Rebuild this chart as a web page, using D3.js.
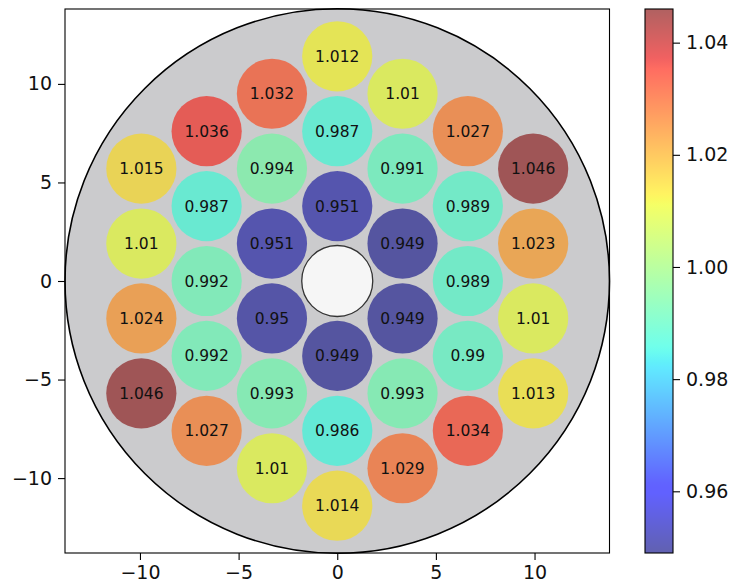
<!DOCTYPE html>
<html>
<head>
<meta charset="utf-8">
<script src="https://cdn.jsdelivr.net/npm/d3@7"></script>
<style>
  body { margin: 0; background: #fff; }
  svg { font-family: "DejaVu Sans", sans-serif; }
</style>
</head>
<body>
<svg id="chart" width="738" height="587"></svg>
<script>
'use strict';

// pin centres (data units) and their values
const pinX = [
  0, 0, 0, 0, 0, 0,
  -3.31, -3.31, -3.31, -3.31, -3.31, -3.31,
  3.31, 3.31, 3.31, 3.31, 3.31, 3.31,
  -6.62, -6.62, -6.62, -6.62, -6.62,
  6.62, 6.62, 6.62, 6.62, 6.62,
  -9.93, -9.93, -9.93, -9.93,
  9.93, 9.93, 9.93, 9.93
];
const pinY = [
  11.4, 7.6, 3.8, -3.8, -7.6, -11.4,
  9.5, 5.7, 1.9, -1.9, -5.7, -9.5,
  9.5, 5.7, 1.9, -1.9, -5.7, -9.5,
  7.6, 3.8, 0, -3.8, -7.6,
  7.6, 3.8, 0, -3.8, -7.6,
  5.7, 1.9, -1.9, -5.7,
  5.7, 1.9, -1.9, -5.7
];
const pinValues = [
  1.012, 0.987, 0.951, 0.949, 0.986, 1.014,
  1.032, 0.994, 0.951, 0.95, 0.993, 1.01,
  1.01, 0.991, 0.949, 0.949, 0.993, 1.029,
  1.036, 0.987, 0.992, 0.992, 1.027,
  1.027, 0.989, 0.989, 0.99, 1.034,
  1.015, 1.01, 1.024, 1.046,
  1.046, 1.023, 1.01, 1.013
];
const xTicks = [-10, -5, 0, 5, 10];
const yTicks = [-10, -5, 0, 5, 10];
const cbTicks = [0.96, 0.98, 1.00, 1.02, 1.04];

const vesselR = 13.8;   // outer circle radius
const pinR = 1.78;      // pin radius
const holeR = 1.8;      // central hole radius

// matplotlib "jet"
function jet(t){
  t = Math.max(0, Math.min(1, t));
  const seg = (pts) => {
    for (let i = 1; i < pts.length; i++) {
      if (t <= pts[i][0]) {
        const a = pts[i-1], b = pts[i];
        return a[1] + (b[1]-a[1]) * (t-a[0]) / (b[0]-a[0]);
      }
    }
    return pts[pts.length-1][1];
  };
  const r = seg([[0,0],[0.35,0],[0.66,1],[0.89,1],[1,0.5]]);
  const g = seg([[0,0],[0.125,0],[0.375,1],[0.64,1],[0.91,0],[1,0]]);
  const b = seg([[0,0.5],[0.11,1],[0.34,1],[0.65,0],[1,0]]);
  return d3.rgb(r*255, g*255, b*255).formatHex();
}

const pinAlpha = 0.58, cbAlpha = 0.62;
const vmin = d3.min(pinValues), vmax = d3.max(pinValues);
const norm = d3.scaleLinear().domain([vmin, vmax]).range([0, 1]);
const color = v => jet(norm(v));

const svg = d3.select("#chart");
const x = d3.scaleLinear().domain([-vesselR, vesselR]).range([65, 609.5]);
const y = d3.scaleLinear().domain([-vesselR, vesselR]).range([553, 9]);
const k = x(1) - x(0);

const plot = svg.append("g");

plot.append("circle")
  .attr("cx", x(0)).attr("cy", y(0)).attr("r", vesselR * k)
  .attr("fill", "#cbcbcd").attr("stroke", "#000").attr("stroke-width", 1.6);

const pins = pinValues.map((v, i) => ({x: pinX[i], y: pinY[i], v: v}));

plot.selectAll(".pin").data(pins).enter()
  .append("circle").attr("class", "pin")
  .attr("cx", d => x(d.x)).attr("cy", d => y(d.y)).attr("r", pinR * k)
  .attr("fill", d => color(d.v)).attr("fill-opacity", pinAlpha);

plot.append("circle")
  .attr("cx", x(0)).attr("cy", y(0)).attr("r", holeR * k)
  .attr("fill", "#f6f6f6").attr("stroke", "#333").attr("stroke-width", 1.3);

plot.selectAll(".lbl").data(pins).enter()
  .append("text").attr("class", "lbl")
  .attr("x", d => x(d.x)).attr("y", d => y(d.y))
  .attr("text-anchor", "middle").attr("dy", "0.36em")
  .attr("font-size", 15.5).attr("fill", "#111")
  .text(d => String(d.v));

// frame
plot.append("rect")
  .attr("x", x(-vesselR)).attr("y", y(vesselR))
  .attr("width", x(vesselR) - x(-vesselR)).attr("height", y(-vesselR) - y(vesselR))
  .attr("fill", "none").attr("stroke", "#000").attr("stroke-width", 1.1);

const fmt = d => String(d).replace("-", "\u2212");

const xAxis = svg.append("g").attr("transform", `translate(0,${y(-vesselR)})`)
  .call(d3.axisBottom(x).tickValues(xTicks).tickSize(7).tickPadding(6).tickFormat(fmt));
const yAxis = svg.append("g").attr("transform", `translate(${x(-vesselR)},0)`)
  .call(d3.axisLeft(y).tickValues(yTicks).tickSize(7).tickPadding(6).tickFormat(fmt));
[xAxis, yAxis].forEach(a => {
  a.select(".domain").remove();
  a.selectAll("text").attr("font-size", 19).attr("fill", "#111")
    .attr("font-family", "DejaVu Sans, sans-serif");
  a.selectAll("line").attr("stroke", "#000").attr("stroke-width", 1.1);
});

// colorbar
const cbX = 645, cbW = 28;
const cy = d3.scaleLinear().domain([vmin, vmax]).range([553, 9]);
const grad = svg.append("defs").append("linearGradient")
  .attr("id", "cbgrad").attr("x1", 0).attr("y1", 1).attr("x2", 0).attr("y2", 0);
d3.range(0, 1.0001, 0.01).forEach(t => {
  grad.append("stop").attr("offset", t).attr("stop-color", jet(t)).attr("stop-opacity", cbAlpha);
});
svg.append("rect")
  .attr("x", cbX).attr("y", cy(vmax)).attr("width", cbW).attr("height", cy(vmin) - cy(vmax))
  .attr("fill", "url(#cbgrad)").attr("stroke", "#000").attr("stroke-width", 1.1);

const cbAxis = svg.append("g").attr("transform", `translate(${cbX + cbW},0)`)
  .call(d3.axisRight(cy).tickValues(cbTicks).tickSize(7).tickPadding(6).tickFormat(d3.format(".2f")));
cbAxis.select(".domain").remove();
cbAxis.selectAll("text").attr("font-size", 19).attr("fill", "#111")
  .attr("font-family", "DejaVu Sans, sans-serif");
cbAxis.selectAll("line").attr("stroke", "#000").attr("stroke-width", 1.1);
</script>
</body>
</html>
